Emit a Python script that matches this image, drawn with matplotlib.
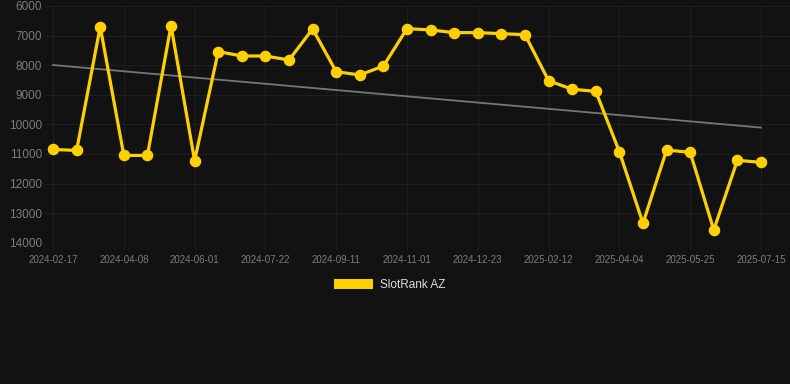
import matplotlib
matplotlib.use("Agg")
import matplotlib.pyplot as plt
from matplotlib.patches import Patch

# rank per snapshot (lower is better, axis inverted)
ranks = [10850, 10880, 6700, 11050, 11050, 6660, 11230, 7540, 7690, 7690,
         7825, 6775, 8220, 8330, 8030, 6765, 6810, 6900, 6900, 6935,
         6970, 8525, 8815, 8885, 10925, 13345, 10870, 10945, 13570, 11215,
         11285]
tick_labels = ["2024-02-17", "2024-04-08", "2024-06-01", "2024-07-22", "2024-09-11",
               "2024-11-01", "2024-12-23", "2025-02-12", "2025-04-04", "2025-05-25",
               "2025-07-15"]
trend_start, trend_end = 7995, 10110
series_name = "SlotRank AZ"

bg = "#121212"
grid = "#1f1f1f"
yellow = "#FFD000"
label_grey = "#7c7c7c"

plt.rcParams["font.family"] = ["Liberation Sans", "DejaVu Sans"]

fig = plt.figure(figsize=(7.9, 3.84), dpi=100, facecolor=bg)
ax = fig.add_axes([45 / 790, 1 - 242.7 / 384, 1 - 45 / 790, (242.7 - 6) / 384])
ax.set_facecolor(bg)

x = list(range(len(ranks)))
ax.plot([x[0], x[-1]], [trend_start, trend_end], color="#767676", lw=1.3, zorder=2)
ax.plot(x, ranks, color=yellow, lw=2.3, marker="o", ms=7.3,
        solid_joinstyle="miter", zorder=3)

ax.set_xlim(-0.34, 31.23)
ax.set_ylim(14000, 6000)
ax.set_yticks(range(6000, 14001, 1000))
ax.set_xticks(x[::3])
ax.set_xticklabels(tick_labels)

ax.grid(True, color=grid, lw=0.8)
ax.set_axisbelow(True)
for s in ax.spines.values():
    s.set_visible(False)
ax.tick_params(axis="y", length=0, pad=2, labelsize=8.5, labelcolor=label_grey)
ax.tick_params(axis="x", length=5, color=grid, pad=4, labelsize=7, labelcolor=label_grey)

handle = Patch(facecolor=yellow, edgecolor="none", label=series_name)
fig.legend(handles=[handle], loc="center", bbox_to_anchor=(390 / 790, 1 - 285 / 384),
           frameon=False, fontsize=8.5, labelcolor="#dddddd",
           handlelength=3.3, handleheight=1.0, handletextpad=0.6)

fig.savefig("out.png", dpi=100, facecolor=bg)
